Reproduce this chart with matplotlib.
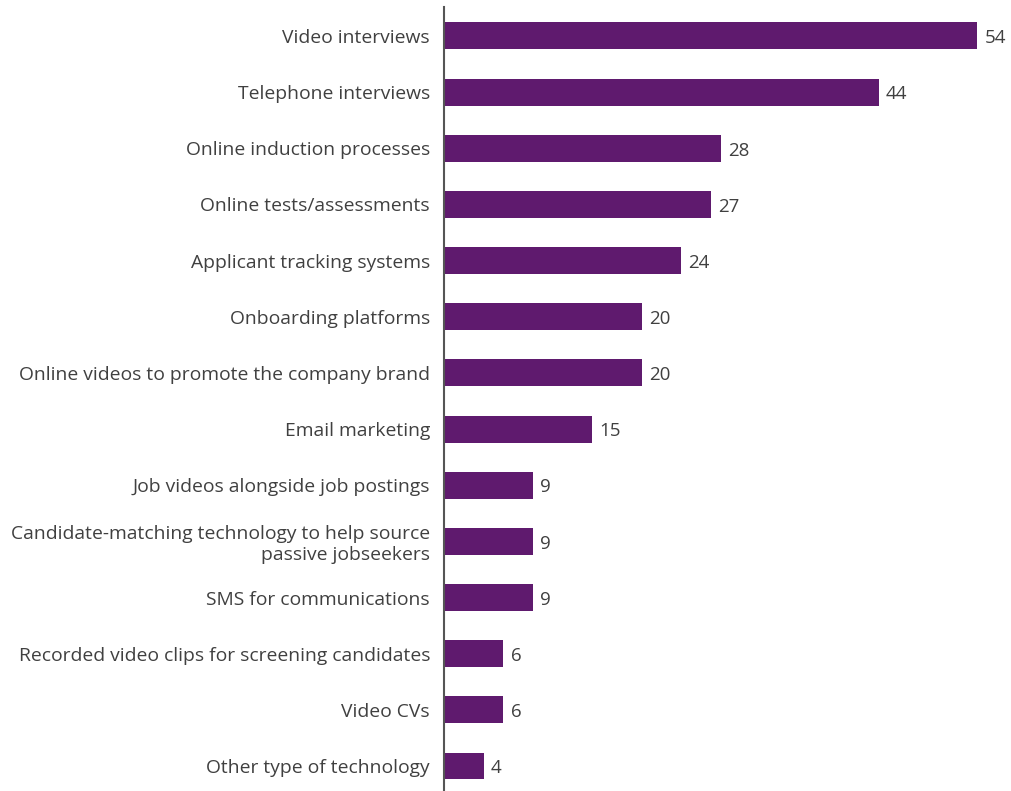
import matplotlib
matplotlib.use("Agg")
import matplotlib.pyplot as plt

categories = [
    "Video interviews",
    "Telephone interviews",
    "Online induction processes",
    "Online tests/assessments",
    "Applicant tracking systems",
    "Onboarding platforms",
    "Online videos to promote the company brand",
    "Email marketing",
    "Job videos alongside job postings",
    "Candidate-matching technology to help source\npassive jobseekers",
    "SMS for communications",
    "Recorded video clips for screening candidates",
    "Video CVs",
    "Other type of technology",
]
values = [54, 44, 28, 27, 24, 20, 20, 15, 9, 9, 9, 6, 6, 4]

bar_color = "#5f1a6e"
text_color = "#404040"

plt.rcParams["font.family"] = ["Open Sans", "DejaVu Sans"]

fig = plt.figure(figsize=(10.12, 7.91), dpi=100)
ax = fig.add_axes([444 / 1012, 0.0, 1 - 444 / 1012, 1 - 7 / 791])

pos = list(range(len(categories)))
ax.barh(pos, values, height=0.48, color=bar_color)
for y, v in zip(pos, values):
    ax.text(v + 0.75, y + 0.04, str(v), va="center", ha="left",
            fontsize=13.5, color=text_color)

ax.set_xlim(0, 57.5)
ax.set_ylim(13.445, -0.516)
ax.set_yticks(pos)
ax.set_yticklabels(categories, fontsize=13.9, color=text_color,
                   linespacing=1.2)
ax.tick_params(axis="y", length=0, pad=10)
ax.set_xticks([])

for side in ["top", "right", "bottom"]:
    ax.spines[side].set_visible(False)
ax.spines["left"].set_color("#555555")
ax.spines["left"].set_linewidth(1.5)

fig.savefig("out.png", dpi=100)
